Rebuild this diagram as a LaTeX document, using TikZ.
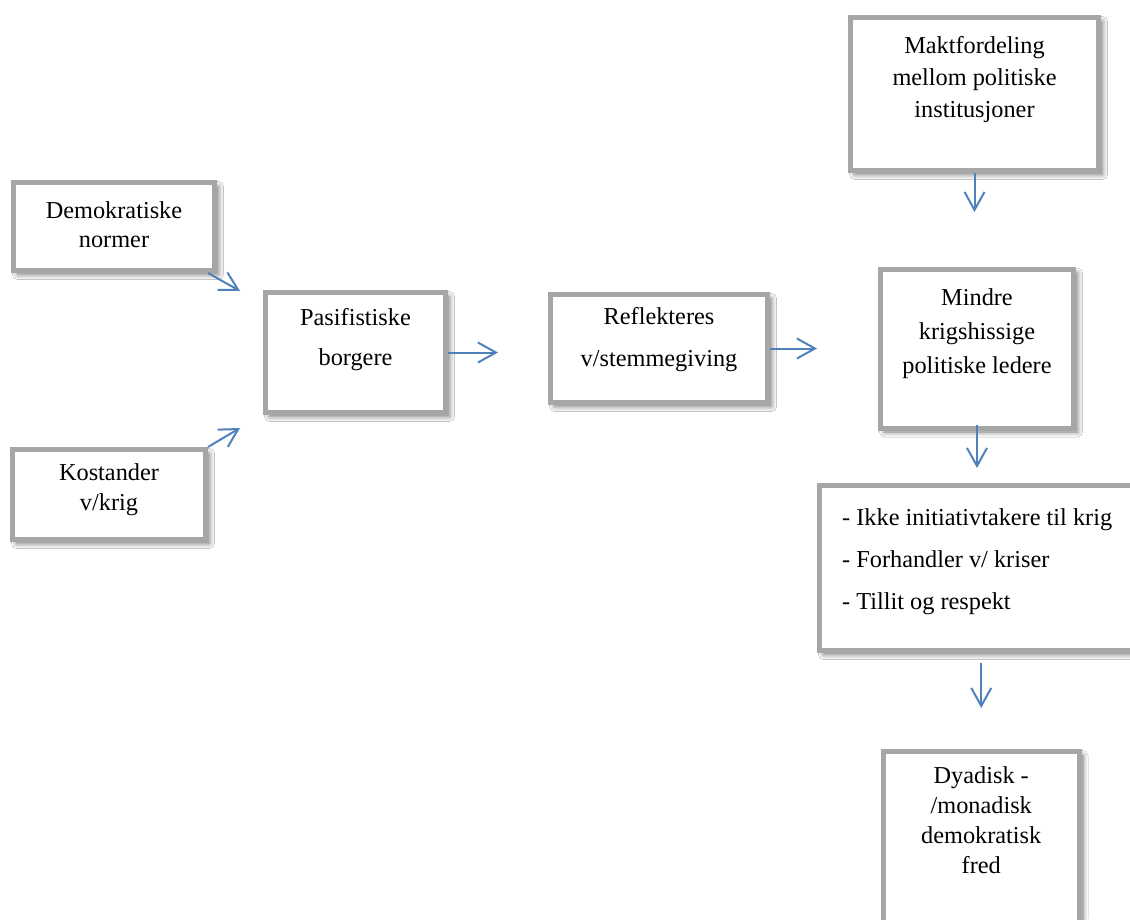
\documentclass[tikz,border=0pt]{standalone}
\usepackage{fontspec}
\setmainfont{Liberation Serif}
\usetikzlibrary{arrows.meta,shadows.blur,positioning}
\definecolor{boxgray}{RGB}{166,166,166}
\definecolor{arrowblue}{RGB}{79,129,189}
\tikzset{
	box/.style={draw=boxgray, line width=5pt, fill=white, inner sep=0pt,
		blur shadow={shadow xshift=4pt, shadow yshift=-4pt, shadow blur radius=5pt, shadow blur steps=8, shadow opacity=55}},
	txt/.style={inner sep=0pt, align=center, font=\fontsize{24.3pt}{#1}\selectfont},
	link/.style={->, draw=arrowblue, line width=2pt}
}
\begin{document}
\begin{tikzpicture}[x=1pt, y=-1pt, >={Straight Barb[length=18pt,width=20pt]}]
			\clip (0,0) rectangle (1130,919);
			\fill[white] (0,0) rectangle (1130,919);
			% bokser
			\node[box, minimum width=201pt, minimum height=88pt, label={[txt=29pt, below=21.5pt]north:Demokratiske\\normer}] (demo) at (114,226.5) {};
			\node[box, minimum width=193pt, minimum height=90pt, label={[txt=30pt, below=16.5pt]north:Kostander\\v/krig}] (kost) at (109,494.5) {};
			\node[box, minimum width=180pt, minimum height=120pt, label={[txt=40pt, below=18.5pt]north:Pasifistiske\\borgere}] (pasif) at (355.5,352.5) {};
			\node[box, minimum width=217pt, minimum height=108pt, label={[txt=42pt, below=15.5pt]north:Reflekteres\\v/stemmegiving}] (refl) at (659,348.5) {};
			\node[box, minimum width=248pt, minimum height=153pt, label={[txt=32pt, below=21.5pt]north:Maktfordeling\\mellom politiske\\institusjoner}] (makt) at (974.5,94) {};
			\node[box, minimum width=193pt, minimum height=159pt, label={[txt=34pt, below=22pt]north:Mindre\\krigshissige\\politiske ledere}] (mindre) at (977,348.5) {};
			\node[box, minimum width=325.5pt, minimum height=165pt, label={[txt=42pt, align=left, anchor=north west, xshift=25pt, yshift=-25.5pt]north west:- Ikke initiativtakere til krig\\- Forhandler v/ kriser\\- Tillit og respekt}] (tiltak) at (982.25,568) {};
			\node[box, minimum width=195.5pt, minimum height=193.5pt, label={[txt=30pt, below=17.5pt]north:Dyadisk -\\/monadisk\\demokratisk\\fred}] (fred) at (981.25,848.25) {};
			% piler
			\coordinate (demo-tip) at (240,291);
			\coordinate (kost-tip) at (240,428);
			\draw[link] ([xshift=-9pt]demo.south east) -- (demo-tip);
			\draw[link] (kost.north east) -- (kost-tip);
			\draw[link, shorten >=50pt] (pasif.east) -- (pasif.east -| refl.west);
			\draw[link, shorten >=61pt] (refl.east) -- (refl.east -| mindre.west);
			\draw[link, shorten >=54.5pt] (makt.south) -- (makt.south |- mindre.north);
			\draw[link, shorten <=-6pt, shorten >=15pt] (mindre.south) -- (mindre.south |- tiltak.north);
			\draw[link, shorten <=10pt, shorten >=41pt] (fred.north |- tiltak.south) -- (fred.north);
		\end{tikzpicture}
\end{document}
